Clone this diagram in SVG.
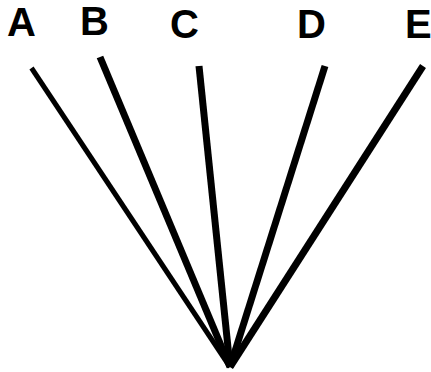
<svg xmlns="http://www.w3.org/2000/svg" width="431" height="372" viewBox="0 0 431 372">
<style>
.lbl{font-family:"Liberation Sans",Arial,sans-serif;font-weight:bold;font-size:40px;fill:#000}
.ln{stroke:#000;fill:none;stroke-linecap:butt}
</style>
<rect width="431" height="372" fill="#fff"/>
<g id="connectors">
<line class="ln" x1="31.5" y1="68" x2="230" y2="367" stroke-width="5"/>
<line class="ln" x1="100" y1="57" x2="230" y2="367" stroke-width="7"/>
<line class="ln" x1="199" y1="66" x2="230" y2="367" stroke-width="7"/>
<line class="ln" x1="325" y1="66" x2="230" y2="367" stroke-width="7"/>
<line class="ln" x1="423" y1="66" x2="230" y2="367" stroke-width="7"/>
</g>
<g id="A"><text class="lbl" x="7" y="36">A</text></g>
<g id="B"><text class="lbl" x="80" y="35">B</text></g>
<g id="C"><text class="lbl" x="170" y="38">C</text></g>
<g id="D"><text class="lbl" x="297" y="38">D</text></g>
<g id="E"><text class="lbl" x="405" y="38">E</text></g>
</svg>
